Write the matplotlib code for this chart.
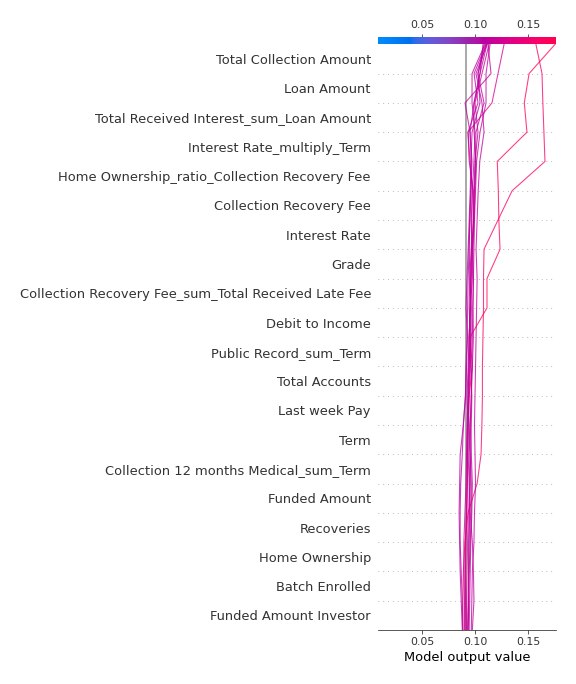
import numpy as np
import matplotlib; matplotlib.use("Agg")
import matplotlib.pyplot as plt
from matplotlib import cm
from matplotlib.colors import LinearSegmentedColormap

# features, bottom row first (y = 0.5, 1.5, ...)
FEATURES = [
    "Funded Amount Investor", "Batch Enrolled", "Home Ownership", "Recoveries",
    "Funded Amount", "Collection 12 months Medical_sum_Term", "Term", "Last week Pay",
    "Total Accounts", "Public Record_sum_Term", "Debit to Income",
    "Collection Recovery Fee_sum_Total Received Late Fee", "Grade", "Interest Rate",
    "Collection Recovery Fee", "Home Ownership_ratio_Collection Recovery Fee",
    "Interest Rate_multiply_Term", "Total Received Interest_sum_Loan Amount",
    "Loan Amount", "Total Collection Amount",
]
BASE_VALUE = 0.0915
XLIM = (0.0085, 0.1764)

# cumulative model output per observation, listed from the top (y=20) down to y=0
PATHS = [
    [.1755, .151, .1465, .149, .121, .122, .1225, .1236, .1113, .1113, .0953, .0975, .0945, .0935, .093, .0925, .092, .091, .0905, .0905, .0905],
    [.1575, .1632, .164, .165, .166, .135, .1217, .1085, .108, .108, .1075, .107, .107, .1065, .1057, .102, .0934, .0905, .089, .0885, .0885],
    [.1274, .1217, .116, .0934, .0953, .0975, .097, .0965, .096, .0955, .0945, .095, .094, .093, .0925, .093, .0935, .093, .0925, .092, .092],
    [.1123, .1151, .0906, .0953, .0972, .0962, .0953, .0943, .0953, .096, .0965, .0955, .0945, .0935, .093, .0925, .092, .0915, .091, .091, .0915],
    [.1113, .1009, .1066, .1085, .1045, .1030, .102, .101, .102, .1015, .101, .1005, .100, .0995, .1, .1005, .0995, .099, .0975, .097, .0965],
    [.1094, .0972, .0972, .100, .099, .0975, .0965, .097, .096, .0965, .0955, .096, .097, .0965, .096, .0955, .095, .0945, .094, .0935, .093],
    [.1104, .1028, .1085, .1009, .1005, .0995, .0985, .0975, .0985, .098, .0985, .0975, .0965, .0955, .0945, .095, .0945, .094, .094, .094, .0935],
    [.1075, .1047, .0991, .0953, .0965, .096, .095, .0945, .0935, .093, .0925, .0915, .091, .089, .088, .0865, .086, .086, .087, .088, .0885],
    [.1142, .1104, .1104, .1047, .1015, .1005, .0995, .099, .0985, .098, .0975, .097, .0965, .0955, .0965, .0975, .097, .096, .0955, .095, .0945],
    [.1085, .1028, .1047, .0972, .0962, .0955, .0945, .0935, .0925, .0915, .093, .092, .091, .089, .086, .0855, .085, .0855, .086, .087, .088],
    [.1104, .0991, .1028, .0934, .0945, .0985, .099, .0965, .095, .0945, .0955, .0945, .0935, .0925, .092, .0915, .0905, .0895, .0895, .090, .090],
    [.1132, .1066, .100, .1028, .100, .099, .0985, .0975, .0965, .0955, .0945, .094, .0935, .0945, .0955, .0965, .0965, .0955, .0945, .094, .0935],
    [.1113, .1047, .0991, .0991, .1009, .0999, .0991, .0981, .0975, .0955, .0945, .0935, .0925, .0935, .0935, .0945, .0955, .0975, .0985, .099, .0975],
]


def lch_to_rgb(l, c, h):
    # CIE Lch -> Lab -> XYZ (D65) -> sRGB
    a, b = c * np.cos(h), c * np.sin(h)
    fy = (l + 16) / 116.0
    f = np.array([fy + a / 500.0, fy, fy - b / 200.0])
    xyz = np.where(f > 0.2068966, f ** 3, (f - 16 / 116.0) / 7.787) * np.array([0.95047, 1.0, 1.08883])
    m = np.array([[3.24048134, -1.53715152, -0.49853633],
                  [-0.96925495, 1.87599, 0.04155593],
                  [0.05564664, -0.20404134, 1.05731107]])
    rgb = m @ xyz
    rgb = np.where(rgb > 0.0031308, 1.055 * np.abs(rgb) ** (1 / 2.4) - 0.055, 12.92 * rgb)
    return np.clip(rgb, 0, 1)


def red_blue():
    n = 100
    ls = list(np.linspace(54., 40., n // 2)) + list(np.linspace(40., 54., n // 2))
    cs = np.linspace(70., 90., n)
    hs = np.linspace(4.6588, 0.35470565 + 2 * np.pi, n)
    cols = [lch_to_rgb(l, c, h) for l, c, h in zip(ls, cs, hs)]
    return LinearSegmentedColormap.from_list("red_blue", cols)


cmap = red_blue()
n_feat = len(FEATURES)
axis_color = "#333333"

fig = plt.figure(figsize=(8, 9.5), dpi=72)
ax = fig.add_axes([378 / 576, 54 / 684, 178 / 576, 593 / 684])

ax.axvline(BASE_VALUE, color="#aaaaaa", lw=2, zorder=-1)
for i in range(1, n_feat):
    ax.axhline(i, color="#999999", lw=0.8, dashes=(1, 5), zorder=-1)

m = cm.ScalarMappable(cmap=cmap)
m.set_clim(XLIM)
y_pos = np.arange(n_feat, -1, -1)
for p in PATHS:
    ax.plot(p, y_pos, color=m.to_rgba(p[0], 0.75), lw=1.1)

ax.set_xlim(XLIM)
ax.xaxis.set_ticks_position("both")
ax.yaxis.set_ticks_position("none")
for sp in ("right", "left", "top"):
    ax.spines[sp].set_visible(False)
ax.spines["bottom"].set_color(axis_color)
ax.tick_params(color=axis_color, labelcolor=axis_color, labeltop=True)
ax.set_yticks(np.arange(n_feat) + 0.5)
ax.set_yticklabels(FEATURES, fontsize=13)
ax.set_xticks([0.05, 0.10, 0.15])
ax.set_xticklabels(["0.05", "0.10", "0.15"])
ax.tick_params("x", labelsize=11)
ax.set_xlabel("Model output value", fontsize=13, color="black")
ax.set_ylim(0, n_feat + 0.25)

# colour bar along the top
sm = cm.ScalarMappable(cmap=cmap)
sm.set_array(np.array([0, 1]))
cax = ax.inset_axes([XLIM[0], n_feat, XLIM[1] - XLIM[0], 0.25], transform=ax.transData)
cb = fig.colorbar(sm, ticks=[0, 1], orientation="horizontal", cax=cax)
cb.set_ticklabels([])
cb.ax.tick_params(length=0)
cb.outline.set_visible(False)

fig.savefig("out.png", dpi=72)
